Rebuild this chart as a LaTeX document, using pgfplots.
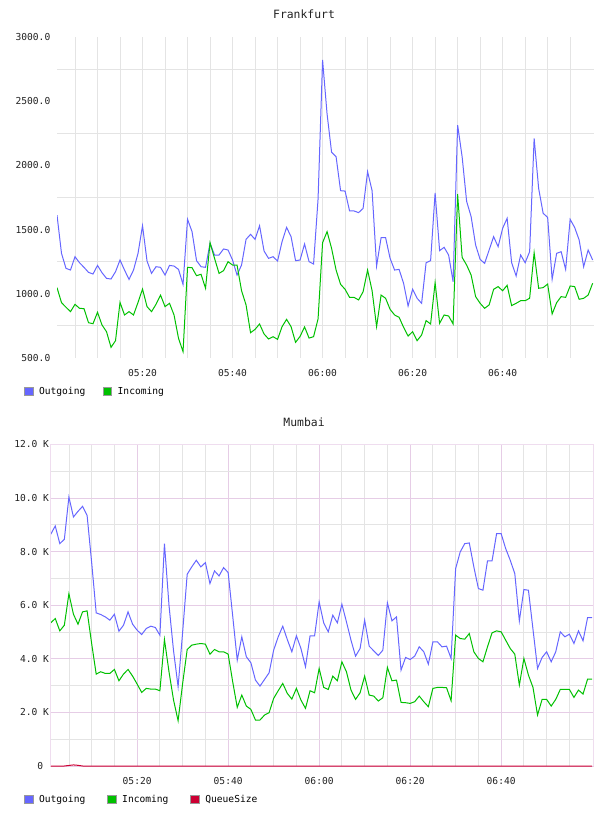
\documentclass[border=0pt]{standalone}
\usepackage{fontspec}
\usepackage{pgfplots}
\usepackage{pgfplotstable}
\pgfplotsset{compat=1.18}

\newfontfamily\chartfont{DejaVu Sans Mono}
\newcommand\tickfont{\chartfont\fontsize{9.6}{10}\selectfont}
\newcommand\titlefont{\chartfont\fontsize{11.4}{12}\selectfont}

\definecolor{outgoing}{HTML}{6666FF}
\definecolor{incoming}{HTML}{00C000}
\definecolor{queue}{HTML}{CC0033}
\definecolor{gridgray}{HTML}{E4E4E4}
\definecolor{gridpink}{HTML}{E6CDE6}
\definecolor{framepink}{HTML}{EFDDEF}
\definecolor{labeltext}{HTML}{222222}

% Frankfurt: one row per minute after 05:00 (outgoing, incoming rate)
\pgfplotstableread{
t out in
1 1613 1048
2 1315 931
3 1198 895
4 1185 861
5 1289 918
6 1242 887
7 1206 884
8 1167 775
9 1154 767
10 1221 856
11 1164 757
12 1120 705
13 1115 583
14 1172 635
15 1263 933
16 1185 835
17 1112 861
18 1185 835
19 1315 933
20 1530 1037
21 1255 900
22 1159 861
23 1211 918
24 1206 990
25 1146 900
26 1221 926
27 1216 835
28 1190 653
29 1073 549
30 1580 1206
31 1484 1203
32 1258 1141
33 1211 1152
34 1206 1043
35 1393 1398
36 1302 1276
37 1302 1159
38 1349 1180
39 1341 1250
40 1263 1224
41 1146 1224
42 1224 1024
43 1424 913
44 1463 697
45 1424 723
46 1530 765
47 1333 687
48 1276 648
49 1289 666
50 1255 645
51 1406 744
52 1517 801
53 1445 744
54 1258 622
55 1263 668
56 1388 742
57 1250 655
58 1232 666
59 1740 805
60 2821 1398
61 2400 1484
62 2102 1354
63 2068 1185
64 1803 1074
65 1800 1035
66 1645 972
67 1645 972
68 1632 952
69 1665 1016
70 1951 1185
71 1803 1024
72 1216 744
73 1437 990
74 1437 965
75 1276 879
76 1185 835
77 1190 817
78 1081 739
79 905 671
80 1035 705
81 965 635
82 926 679
83 1242 791
84 1258 765
85 1785 1087
86 1336 770
87 1362 835
88 1302 827
89 1094 765
90 2314 1777
91 2068 1284
92 1720 1224
93 1601 1146
94 1380 978
95 1268 926
96 1237 887
97 1341 913
98 1445 1035
99 1367 1056
100 1510 1024
101 1588 1066
102 1242 908
103 1139 926
104 1302 946
105 1242 946
106 1328 965
107 2211 1320
108 1821 1043
109 1627 1048
110 1595 1076
111 1113 843
112 1315 931
113 1328 978
114 1190 972
115 1580 1061
116 1517 1056
117 1419 957
118 1211 965
119 1341 990
120 1263 1082
}\frankfurt

% Mumbai: one row per minute after 05:00 (outgoing, incoming, queue size)
\pgfplotstableread{
t out in q
1 8648 5342 0
2 8958 5504 0
3 8300 5044 0
4 8461 5255 0
5 10039 6430 20
6 9294 5665 40
7 9505 5293 25
8 9691 5752 0
9 9356 5790 0
10 7600 4572 0
11 5715 3430 0
12 5653 3517 0
13 5566 3455 0
14 5442 3455 0
15 5665 3604 0
16 5032 3181 0
17 5255 3430 0
18 5752 3604 0
19 5293 3355 0
20 5069 3057 0
21 4908 2747 0
22 5131 2896 0
23 5218 2871 0
24 5169 2871 0
25 4883 2809 0
26 8300 4721 0
27 6000 3517 0
28 4300 2461 0
29 2958 1691 0
30 5000 3082 0
31 7157 4349 0
32 7431 4510 0
33 7679 4548 0
34 7431 4572 0
35 7592 4548 0
36 6810 4175 0
37 7282 4349 0
38 7095 4262 0
39 7406 4262 0
40 7220 4175 0
41 5600 3144 0
42 3952 2188 0
43 4821 2647 0
44 4076 2237 0
45 3852 2113 0
46 3206 1716 0
47 2983 1716 0
48 3231 1902 0
49 3479 1989 0
50 4324 2523 0
51 4821 2809 0
52 5218 3082 0
53 4721 2710 0
54 4262 2498 0
55 4858 2896 0
56 4386 2461 0
57 3703 2150 0
58 4858 2809 0
59 4858 2734 0
60 6125 3641 0
61 5343 2933 0
62 5007 2858 0
63 5628 3355 0
64 5343 3181 0
65 6038 3889 0
66 5380 3517 0
67 4696 2834 0
68 4100 2486 0
69 4386 2734 0
70 5442 3355 0
71 4473 2647 0
72 4299 2610 0
73 4125 2424 0
74 4324 2548 0
75 6088 3678 0
76 5417 3181 0
77 5566 3206 0
78 3579 2374 0
79 4051 2362 0
80 3976 2337 0
81 4100 2399 0
82 4448 2610 0
83 4262 2399 0
84 3802 2213 0
85 4634 2896 0
86 4634 2933 0
87 4448 2933 0
88 4473 2921 0
89 4014 2436 0
90 7368 4883 0
91 7989 4759 0
92 8300 4734 0
93 8325 4945 0
94 7431 4262 0
95 6623 4014 0
96 6561 3889 0
97 7654 4448 0
98 7654 4970 0
99 8672 5044 0
100 8672 5007 0
101 8114 4697 0
102 7679 4386 0
103 7182 4175 0
104 5417 3020 0
105 6586 4014 0
106 6561 3393 0
107 5100 2933 0
108 3641 1902 0
109 4051 2486 0
110 4262 2486 0
111 3889 2237 0
112 4262 2486 0
113 5007 2858 0
114 4821 2858 0
115 4920 2858 0
116 4572 2560 0
117 5044 2834 0
118 4672 2685 0
119 5541 3243 0
120 5541 3243 0
}\mumbai

\pgfplotsset{
  ratechart/.style={
    scale only axis,
    xmin=1, xmax=120.3,
    xtick={20,40,60,80,100},
    xticklabels={05:20,05:40,06:00,06:20,06:40},
    minor xtick={5,10,15,25,30,35,45,50,55,65,70,75,85,90,95,105,110,115},
    major tick length=0pt, minor tick length=0pt,
    axis line style={draw=none},
    scaled y ticks=false,
    /pgf/number format/assume math mode=true,
    tick label style={font=\tickfont, text=labeltext},
    xticklabel style={anchor=center, inner sep=0pt, yshift=-15.5pt},
    yticklabel style={anchor=east, inner sep=0pt},
    title style={font=\titlefont, text=labeltext, anchor=center, inner sep=0pt},
    xmajorgrids, xminorgrids, yminorgrids,
    minor grid style={gridgray, line width=0.8pt},
    legend columns=-1,
    legend style={draw=none, fill=none, inner sep=0pt, anchor=west,
      font=\tickfont, text=black,
      nodes={inner sep=0pt},
      /tikz/every odd column/.append style={column sep=5.5pt}},
    legend image code/.code={%
      \filldraw[##1, draw=black!40, line width=0.9pt]
        (0.45pt,-4.3pt) rectangle (8.95pt,4.3pt);},
    every axis plot/.append style={line width=1pt, mark=none},
  }
}

\begin{document}
\begin{tikzpicture}
\useasboundingbox (0,0) rectangle (608pt,816pt);

% ---------------- Frankfurt ----------------
\begin{axis}[ratechart,
  at={(57pt,458pt)}, anchor=south west,
  width=537pt, height=321pt,
  ymin=500, ymax=3000,
  ytick={500,1000,...,3000},
  yticklabels={500.0,1000.0,1500.0,2000.0,2500.0,3000.0},
  minor ytick={750,1250,...,2750},
  ymajorgrids=false,
  major grid style={gridgray, line width=0.8pt},
  yticklabel style={xshift=-6.5pt},
  title={Frankfurt},
  title style={at={(axis description cs:0.46,1.053)}},
  legend style={at={(axis description cs:-0.0615,-0.1037)},
    /tikz/every even column/.append style={column sep=17.5pt}},
]
\addplot[color=outgoing] table[x=t, y=out] {\frankfurt};
\addlegendentry{Outgoing}
\addplot[color=incoming] table[x=t, y=in] {\frankfurt};
\addlegendentry{Incoming}
\end{axis}

% ---------------- Mumbai ----------------
\begin{axis}[ratechart,
  at={(50.7pt,50pt)}, anchor=south west,
  width=542.8pt, height=321.5pt,
  ymin=0, ymax=12000,
  ytick={0,2000,...,12000},
  yticklabels={0\phantom{K},{2.0 K},{4.0 K},{6.0 K},{8.0 K},{10.0 K},{12.0 K}},
  minor ytick={1000,3000,...,11000},
  ymajorgrids,
  major grid style={gridpink, line width=0.8pt},
  yticklabel style={xshift=-1.5pt},
  title={Mumbai},
  title style={at={(axis description cs:0.4667,1.0513)}},
  legend style={at={(axis description cs:-0.0492,-0.1042)},
    /tikz/every even column/.append style={column sep=22pt}},
  after end axis/.code={
    \draw[framepink, line width=1pt]
      (rel axis cs:0,0) -- (rel axis cs:0,1) -- (rel axis cs:1,1) -- (rel axis cs:1,0);},
]
\addplot[color=outgoing] table[x=t, y=out] {\mumbai};
\addlegendentry{Outgoing}
\addplot[color=incoming] table[x=t, y=in] {\mumbai};
\addlegendentry{Incoming}
\addplot[color=queue] table[x=t, y=q] {\mumbai};
\addlegendentry{QueueSize}
\end{axis}
\end{tikzpicture}
\end{document}
